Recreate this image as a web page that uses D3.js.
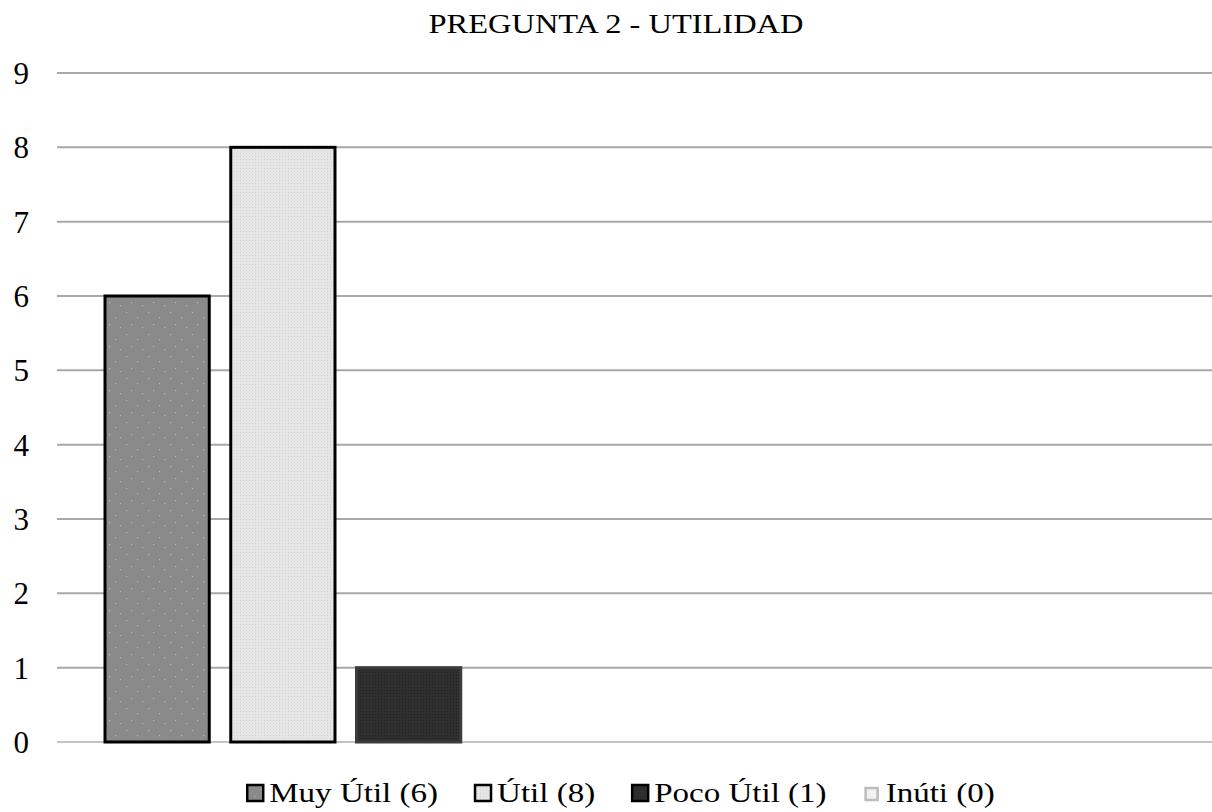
<!DOCTYPE html>
<html><head><meta charset="utf-8">
<script src="https://cdn.jsdelivr.net/npm/d3@7"></script>
<style>body{margin:0;background:#fff}svg{display:block}text{font-family:"Liberation Serif","Times New Roman",serif;fill:#000}</style>
</head><body>
<svg id="c" width="1212" height="812"></svg>
<script>
const title = "PREGUNTA 2 - UTILIDAD";
const categories = ["Utilidad", ""];
const series = ["Muy Útil", "Útil", "Poco Útil", "Inúti"];
const values = [6, 8, 1, 0];
const yTicks = [0,1,2,3,4,5,6,7,8,9];
const fills = ["#8a8a8a", "#e6e6e6", "#2f2f2f", "#f2f2f2"];
const strokes = ["#000", "#000", "#3c3c3c", "#c8c8c8"];

const svg = d3.select("#c");
const m = {l:57, r:0, t:73, b:70};
const W = 1212, H = 812;
const y = d3.scaleLinear().domain([0,9]).range([742, 73]);
const x0 = d3.scaleBand().domain(categories).range([m.l, W]).paddingInner(0).paddingOuter(0);
const x1 = d3.scaleBand().domain(series).range([48, x0.bandwidth()-48]).paddingInner(0.171).paddingOuter(0);
const SX = 1.18;

// patterns
const defs = svg.append("defs");
const p0 = defs.append("pattern").attr("id","pat0").attr("width",22).attr("height",22).attr("patternUnits","userSpaceOnUse");
p0.append("rect").attr("width",22).attr("height",22).attr("fill",fills[0]);
[[3,4],[14,9],[8,16],[19,19]].forEach(([a,b])=>p0.append("rect").attr("x",a).attr("y",b).attr("width",1.2).attr("height",1.2).attr("fill","#b8b8b8"));
const p1 = defs.append("pattern").attr("id","pat1").attr("width",3).attr("height",3).attr("patternUnits","userSpaceOnUse");
p1.append("rect").attr("width",3).attr("height",3).attr("fill",fills[1]);
p1.append("rect").attr("width",1).attr("height",1).attr("fill","#d2d2d2");
const p2 = defs.append("pattern").attr("id","pat2").attr("width",3).attr("height",3).attr("patternUnits","userSpaceOnUse");
p2.append("rect").attr("width",3).attr("height",3).attr("fill",fills[2]);
p2.append("rect").attr("width",1).attr("height",1).attr("fill","#202020");
const fillUrl = i => i===3 ? fills[3] : `url(#pat${i})`;

// gridlines
svg.append("g").selectAll("line").data(yTicks).join("line")
  .attr("x1", m.l).attr("x2", W).attr("y1", d=>y(d)).attr("y2", d=>y(d))
  .attr("stroke", d=> d===0 ? "#c4c4c4" : "#a8a8a8").attr("stroke-width", 2);

// y axis labels
const yAxis = d3.axisLeft(y).tickValues(yTicks).tickSize(0).tickPadding(0).tickFormat(d3.format("d"));
const ga = svg.append("g").attr("transform", "translate(29,0)").call(yAxis);
ga.select(".domain").remove();
ga.selectAll("text").attr("font-size", 31).attr("font-family", '"Liberation Serif",serif').attr("fill","#000").attr("dy","0.34em");

// bars
svg.append("g").attr("transform", `translate(${x0(categories[0])},0)`)
  .selectAll("rect").data(series.map((s,i)=>({s, v:values[i], i}))).join("rect")
  .attr("x", d=>x1(d.s)).attr("width", x1.bandwidth())
  .attr("y", d=>y(d.v)).attr("height", d=>y(0)-y(d.v))
  .attr("fill", d=>fillUrl(d.i)).attr("stroke", d=>strokes[d.i]).attr("stroke-width", 3)
  .attr("display", d=> d.v>0 ? null : "none");

// title
svg.append("text").attr("transform", `translate(616,33) scale(${SX},1)`).attr("text-anchor","middle").attr("font-size", 27.5).text(title);

// legend
const lg = svg.append("g").attr("transform","translate(0,802)");
const items = lg.selectAll("g").data(series.map((s,i)=>({s,i,label:`${s} (${values[i]})`}))).join("g");
items.append("rect").attr("x",d=>d.i===3?3:1).attr("y",d=>d.i===3?-14:-17).attr("width",d=>d.i===3?12:16).attr("height",d=>d.i===3?12:16)
  .attr("fill",d=>fillUrl(d.i)).attr("stroke",d=>d.i===3?"#bbb":"#000").attr("stroke-width",2.5);
items.append("text").attr("transform",`translate(23,0) scale(${SX},1)`).attr("font-size",28).text(d=>d.label);
let widths = [];
items.each(function(){ const t = d3.select(this).select("text").node(); widths.push(23 + t.getComputedTextLength()*SX); });
const gap = 36;
const total = d3.sum(widths) + gap*(widths.length-1);
let cx = 620.5 - total/2;
items.attr("transform", (d,i)=>{ const t = `translate(${cx},0)`; cx += widths[i] + gap; return t; });
</script>
</body></html>
